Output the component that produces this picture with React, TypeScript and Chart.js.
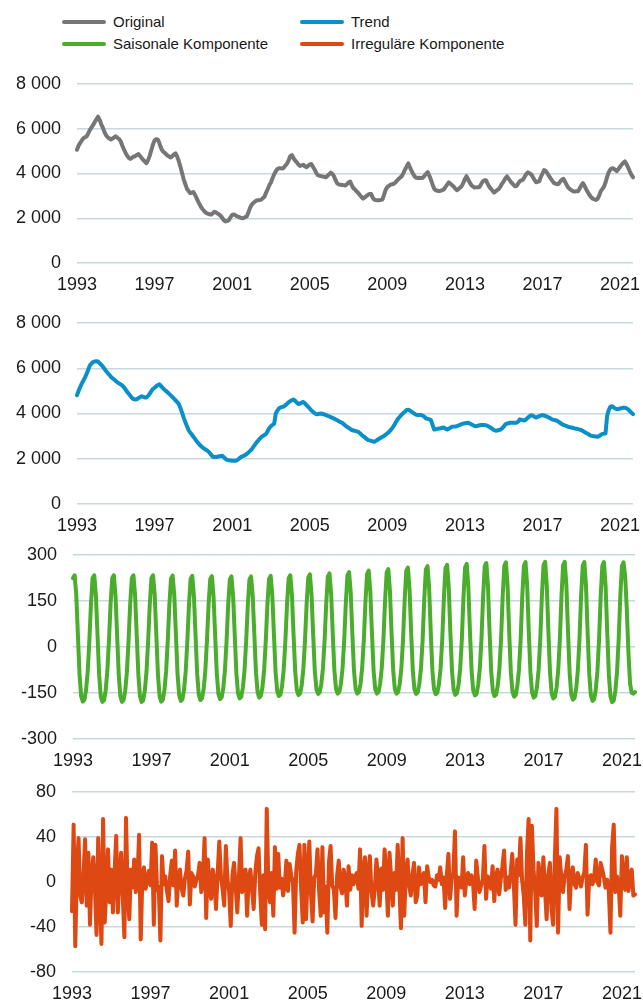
import React, { useEffect, useRef } from "react";
import { Chart, registerables } from "chart.js";

Chart.register(...registerables);

const START_YEAR = 1993;
const xTickYears = ["1993", "1997", "2001", "2005", "2009", "2013", "2017", "2021"];

const seriesNames = ["Original", "Trend", "Saisonale Komponente", "Irreguläre Komponente"];
const seriesColors = ["#767676", "#0a8fc8", "#4aad2c", "#de4812"];

// monthly values Jan 1993 .. Sep 2021
const original = [
  5060, 5250, 5370, 5480, 5580, 5620, 5660, 5800, 5950, 6060, 6170, 6300,
  6420, 6540, 6400, 6200, 6050, 5850, 5700, 5620, 5560, 5520, 5560, 5620,
  5660, 5600, 5540, 5450, 5250, 5080, 4930, 4800, 4700, 4650, 4700, 4750,
  4780, 4830, 4870, 4780, 4690, 4610, 4530, 4460, 4600, 4800, 5050, 5300,
  5480, 5530, 5520, 5350, 5140, 5000, 4940, 4870, 4800, 4760, 4720, 4780,
  4850, 4900, 4750, 4550, 4300, 4020, 3740, 3530, 3320, 3220, 3120, 3140,
  3170, 3050, 2900, 2740, 2600, 2470, 2380, 2300, 2230, 2200, 2180, 2160,
  2220, 2290, 2260, 2210, 2170, 2100, 2000, 1900, 1860, 1880, 1920, 2050,
  2150, 2170, 2130, 2090, 2060, 2030, 2000, 2010, 2050, 2080, 2250, 2450,
  2600, 2680, 2740, 2790, 2800, 2810, 2830, 2900, 2960, 3150, 3300, 3480,
  3600, 3800, 3960, 4100, 4200, 4240, 4230, 4220, 4260, 4360, 4450, 4600,
  4780, 4820, 4680, 4580, 4500, 4400, 4340, 4360, 4390, 4320, 4280, 4340,
  4400, 4420, 4300, 4180, 4030, 3930, 3900, 3880, 3870, 3850, 3830, 3900,
  3970, 4040, 3980, 3880, 3700, 3560, 3510, 3500, 3490, 3480, 3460, 3520,
  3600, 3640, 3480, 3340, 3290, 3200, 3130, 3040, 2950, 2880, 2930, 2990,
  3040, 3090, 3080, 2920, 2830, 2810, 2800, 2800, 2820, 2840, 3050, 3280,
  3400, 3450, 3500, 3520, 3540, 3600, 3680, 3760, 3820, 3890, 4030, 4180,
  4320, 4450, 4280, 4110, 3980, 3860, 3810, 3800, 3810, 3800, 3810, 3900,
  3990, 4060, 3900, 3720, 3500, 3320, 3250, 3230, 3210, 3230, 3260, 3290,
  3400, 3500, 3600, 3550, 3480, 3420, 3330, 3250, 3300, 3370, 3430, 3580,
  3750, 3880, 3730, 3590, 3480, 3420, 3370, 3380, 3390, 3400, 3520, 3640,
  3700, 3700, 3550, 3420, 3320, 3240, 3150, 3200, 3260, 3310, 3420, 3550,
  3650, 3780, 3870, 3770, 3670, 3580, 3500, 3430, 3450, 3560, 3660, 3690,
  3730, 3860, 3980, 4050, 4010, 3960, 3850, 3720, 3610, 3630, 3650, 3850,
  4000, 4150, 4120, 4010, 3890, 3780, 3680, 3580, 3550, 3520, 3540, 3650,
  3720, 3760, 3620, 3490, 3360, 3300, 3250, 3210, 3200, 3210, 3210, 3330,
  3470, 3570, 3450, 3300, 3170, 3050, 2950, 2880, 2850, 2820, 2860, 3000,
  3200, 3300, 3400, 3600, 3850, 4060, 4180, 4230, 4220, 4160, 4110, 4200,
  4300, 4400, 4480, 4540, 4420, 4260, 4100, 3950, 3830,
];

const trend = [
  4810, 5000, 5170, 5330, 5460, 5600, 5760, 5940, 6130, 6210, 6280, 6300,
  6310, 6300, 6220, 6150, 6070, 5970, 5870, 5790, 5710, 5620, 5560, 5500,
  5440, 5380, 5330, 5290, 5240, 5160, 5060, 4960, 4870, 4780, 4690, 4640,
  4620, 4630, 4680, 4720, 4760, 4740, 4710, 4710, 4780, 4880, 4990, 5080,
  5140, 5200, 5260, 5290, 5210, 5130, 5060, 5000, 4940, 4870, 4800, 4730,
  4660, 4580, 4500, 4420, 4240, 4040, 3820, 3620, 3450, 3270, 3160, 3080,
  2970, 2880, 2780, 2690, 2610, 2540, 2480, 2430, 2390, 2340, 2270, 2180,
  2090, 2080, 2080, 2090, 2110, 2120, 2130, 2060, 1990, 1950, 1930, 1920,
  1910, 1910, 1910, 1930, 1990, 2050, 2100, 2130, 2160, 2210, 2270, 2340,
  2410, 2510, 2610, 2710, 2790, 2880, 2960, 3010, 3050, 3100, 3230, 3360,
  3440, 3500, 3550, 4000, 4130, 4230, 4270, 4290, 4310, 4370, 4430, 4500,
  4550, 4590, 4620, 4560, 4480, 4420, 4440, 4480, 4510, 4450, 4370, 4300,
  4220, 4140, 4070, 4020, 3970, 3970, 3990, 4000, 3980, 3960, 3930, 3900,
  3870, 3840, 3810, 3780, 3740, 3700, 3660, 3620, 3590, 3530, 3470, 3410,
  3370, 3320, 3270, 3250, 3230, 3210, 3190, 3130, 3060, 3000, 2950, 2890,
  2830, 2810, 2790, 2770, 2750, 2790, 2840, 2890, 2930, 2970, 3010, 3070,
  3120, 3190, 3260, 3350, 3450, 3580, 3700, 3800, 3880, 3960, 4030, 4090,
  4160, 4170, 4130, 4080, 4030, 3980, 3940, 3930, 3930, 3930, 3900, 3850,
  3780, 3760, 3740, 3710, 3500, 3290, 3300, 3320, 3340, 3350, 3370, 3380,
  3330, 3290, 3330, 3370, 3410, 3420, 3430, 3440, 3470, 3500, 3530, 3550,
  3570, 3580, 3590, 3560, 3520, 3480, 3450, 3440, 3460, 3480, 3490, 3490,
  3490, 3480, 3450, 3410, 3370, 3320, 3270, 3240, 3250, 3270, 3290, 3340,
  3420, 3520, 3550, 3570, 3590, 3590, 3590, 3590, 3590, 3650, 3740, 3720,
  3700, 3690, 3750, 3820, 3880, 3920, 3900, 3860, 3820, 3850, 3880, 3910,
  3930, 3910, 3880, 3850, 3820, 3780, 3740, 3720, 3700, 3680, 3630, 3580,
  3530, 3500, 3470, 3440, 3410, 3390, 3380, 3360, 3340, 3330, 3310, 3290,
  3270, 3230, 3180, 3140, 3100, 3060, 3020, 3000, 2990, 2980, 2970, 3000,
  3050, 3090, 3110, 3120, 3900, 4150, 4300, 4320, 4270, 4220, 4190, 4200,
  4220, 4240, 4260, 4250, 4230, 4180, 4110, 4040, 3970,
];

const seasonal = [
  224, 234, 170, 40, -90, -160, -178, -172, -140, -80, 20, 140,
  225, 234, 169, 40, -91, -161, -179, -173, -141, -80, 20, 139,
  224, 234, 170, 39, -90, -161, -179, -172, -141, -81, 21, 140,
  224, 234, 169, 40, -90, -160, -179, -173, -140, -80, 20, 140,
  224, 234, 170, 40, -90, -160, -178, -172, -139, -79, 20, 139,
  223, 233, 169, 39, -89, -158, -176, -170, -138, -78, 20, 139,
  222, 232, 168, 39, -87, -156, -173, -167, -136, -77, 20, 138,
  221, 231, 167, 39, -86, -153, -170, -164, -134, -76, 20, 138,
  220, 230, 166, 39, -85, -151, -168, -162, -132, -75, 19, 137,
  220, 230, 167, 40, -83, -148, -165, -159, -130, -74, 20, 138,
  222, 232, 168, 40, -81, -144, -160, -155, -126, -72, 20, 139,
  224, 234, 170, 41, -79, -141, -157, -152, -124, -71, 21, 140,
  227, 237, 172, 41, -77, -138, -153, -148, -120, -69, 21, 142,
  230, 240, 174, 42, -77, -137, -152, -147, -120, -68, 21, 143,
  234, 244, 177, 42, -77, -137, -152, -147, -120, -68, 21, 146,
  238, 249, 180, 43, -77, -137, -152, -147, -120, -68, 22, 149,
  243, 254, 184, 44, -77, -137, -152, -147, -120, -68, 22, 152,
  248, 259, 188, 45, -77, -138, -153, -148, -120, -69, 22, 155,
  253, 264, 191, 46, -78, -138, -154, -149, -121, -69, 23, 158,
  257, 268, 194, 46, -79, -140, -156, -151, -123, -70, 23, 160,
  260, 271, 196, 47, -80, -142, -158, -153, -124, -71, 23, 162,
  263, 274, 198, 47, -81, -144, -160, -155, -126, -72, 24, 164,
  264, 276, 200, 48, -82, -146, -162, -157, -127, -73, 24, 165,
  265, 277, 200, 48, -83, -148, -165, -160, -130, -74, 24, 166,
  266, 278, 201, 48, -85, -151, -168, -162, -132, -75, 24, 166,
  266, 278, 201, 48, -87, -155, -172, -166, -135, -77, 24, 166,
  265, 277, 200, 48, -89, -158, -176, -170, -138, -79, 24, 166,
  265, 277, 200, 48, -91, -162, -180, -174, -142, -81, 24, 166,
  264, 276, 230, 120, -20, -120, -150, -152, -147,
];

const irregular = [
  -26, 51, -57, 10, 39, -12, -18, 5, 38, -21, 26, -38,
  8, 22, -5, -47, 39, -10, -55, 56, -36, -5, 29, -18,
  11, -27, 8, 41, -27, 5, 26, -12, -49, 57, -8, -33,
  11, -5, 20, -9, 3, 42, -51, 4, 13, -6, 2, 10,
  -3, 35, -38, 33, -7, -4, -52, 23, -2, 5, -8, -17,
  6, 19, -3, 28, -21, 4, 11, -6, -12, 3, 10, 27,
  -20, 8, 5, -4, 2, 6, 17, -9, 3, 39, -32, 20,
  -3, -15, 11, 2, -24, 8, 36, 5, -6, -21, 32, 2,
  -8, -39, 6, 17, -4, -27, 5, 39, -9, 3, 11, -30,
  4, 11, -6, -24, 8, 23, 30, -10, -38, 6, -42, 65,
  -4, -18, 8, -30, 31, -6, 25, -5, 3, -12, -3, 19,
  -8, 16, 5, 0, -45, 10, 25, 33, -6, -36, 33, -33,
  8, 36, -10, -35, 4, 7, 29, -8, -30, 31, -27, -4,
  -45, 18, 32, -3, -7, -32, 6, 19, -4, -10, 11, 3,
  -21, 14, -7, 6, -2, 5, 8, -6, 29, -39, 12, 22,
  -30, 8, 23, -9, -21, -7, 20, 4, -21, 12, -7, 29,
  6, -30, 26, 4, -21, 8, -7, 33, -4, -41, 39, -30,
  8, 20, -3, -12, 6, 17, -18, -12, 13, -2, 5, 8,
  -18, 14, 4, 0, 2, -3, -4, 6, 2, 13, -2, 4,
  -23, 6, 25, -15, 3, 8, 45, -30, 4, 2, -5, 22,
  -12, 3, 8, -2, 6, 0, -24, 19, 4, -9, -3, 2,
  32, -15, 5, 2, -6, 14, -17, 4, 11, -11, 3, 14,
  28, -7, 4, -5, 8, 25, -4, -38, 20, 6, 39, 2,
  -12, -38, 26, 56, -52, 50, 11, -8, -39, 17, 3, -12,
  22, -6, -33, 6, 17, -24, -38, 20, 65, -45, 22, 4,
  -9, 5, 11, 23, -24, 6, 13, -2, -5, 8, 3, -4,
  4, 8, 33, -29, 2, 6, -2, 3, 20, 0, -3, 17,
  11, 4, -5, 2, -8, -45, 31, 51, -9, 5, -2, -30,
  23, 6, -7, 22, -8, 4, 11, -12, -11,
];

const monthLabels = original.map(
  (_, i) => `${START_YEAR + Math.floor(i / 12)}-${(i % 12) + 1}`
);

const FONT = "'Liberation Sans', Arial, Helvetica, sans-serif";
const GRID = "#c8d8df";
const TEXT = "#1a1a1a";

type Panel = {
  data: number[];
  color: string;
  min: number;
  max: number;
  step: number;
  top: number;
  height: number;
  axisWidth: number;
  rightPad: number;
};

// canvas top + 20 = plot top; canvas bottom - 30 = plot bottom
const panels: Panel[] = [
  { data: original, color: seriesColors[0], min: 0, max: 8000, step: 2000, top: 64, height: 229, axisWidth: 77, rightPad: 10 },
  { data: trend, color: seriesColors[1], min: 0, max: 8000, step: 2000, top: 303, height: 231, axisWidth: 77, rightPad: 10 },
  { data: seasonal, color: seriesColors[2], min: -300, max: 300, step: 150, top: 535, height: 234, axisWidth: 73, rightPad: 8 },
  { data: irregular, color: seriesColors[3], min: -80, max: 80, step: 40, top: 772, height: 230, axisWidth: 72, rightPad: 8 },
];

function fmt(v: number): string {
  const s = String(Math.abs(v)).replace(/\B(?=(\d{3})+(?!\d))/g, " ");
  return (v < 0 ? "-" : "") + s;
}

function PanelChart({ p }: { p: Panel }) {
  const ref = useRef<HTMLCanvasElement | null>(null);
  useEffect(() => {
    if (!ref.current) return;
    const chart = new Chart(ref.current, {
      type: "line",
      data: {
        labels: monthLabels,
        datasets: [
          {
            data: p.data,
            borderColor: p.color,
            borderWidth: 4,
            pointRadius: 0,
            tension: 0,
            fill: false,
            borderJoinStyle: "round",
            borderCapStyle: "round",
          },
        ],
      },
      options: {
        animation: false,
        responsive: false,
        devicePixelRatio: 1,
        layout: { padding: { top: 20, right: p.rightPad, left: 0, bottom: 0 } },
        plugins: { legend: { display: false }, tooltip: { enabled: false } },
        scales: {
          x: {
            type: "category",
            offset: false,
            grid: { display: false, drawTicks: false },
            border: { display: false },
            ticks: {
              autoSkip: false,
              maxRotation: 0,
              minRotation: 0,
              padding: 11,
              color: TEXT,
              font: { family: FONT, size: 18 },
              callback: (_v: any, idx: number) => {
                const lab = monthLabels[idx];
                const [y, m] = lab.split("-");
                return m === "1" && xTickYears.includes(y) ? y : null;
              },
            },
            afterFit: (s: any) => {
              s.height = 30;
              s.paddingLeft = 0;
              s.paddingRight = 0;
            },
          },
          y: {
            min: p.min,
            max: p.max,
            grid: { color: GRID, lineWidth: 1.5, drawTicks: false },
            border: { display: false },
            ticks: {
              stepSize: p.step,
              padding: 16,
              color: TEXT,
              font: { family: FONT, size: 18 },
              callback: (v: any) => fmt(Number(v)),
            },
            afterFit: (s: any) => {
              s.width = p.axisWidth;
              s.paddingTop = 0;
              s.paddingBottom = 0;
            },
          },
        },
      },
    });
    return () => chart.destroy();
  }, [p]);
  return (
    <canvas
      ref={ref}
      width={643}
      height={p.height}
      style={{ position: "absolute", left: 0, top: p.top, width: 643, height: p.height }}
    />
  );
}

function LegendItem({ i, left, top }: { i: number; left: number; top: number }) {
  return (
    <>
      <div
        style={{
          position: "absolute",
          left,
          top: top - 2,
          width: 44,
          height: 4,
          borderRadius: 2,
          background: seriesColors[i],
        }}
      />
      <div
        style={{
          position: "absolute",
          left: left + 51,
          top: top - 10,
          fontFamily: FONT,
          fontSize: 15,
          lineHeight: "20px",
          color: TEXT,
          whiteSpace: "nowrap",
        }}
      >
        {seriesNames[i]}
      </div>
    </>
  );
}

export default function App() {
  return (
    <div style={{ position: "absolute", left: 0, top: 0, width: 643, height: 1003, background: "#fff", overflow: "hidden" }}>
      <LegendItem i={0} left={62} top={22} />
      <LegendItem i={1} left={300} top={22} />
      <LegendItem i={2} left={62} top={44} />
      <LegendItem i={3} left={300} top={44} />
      {panels.map((p, k) => (
        <PanelChart key={k} p={p} />
      ))}
    </div>
  );
}
